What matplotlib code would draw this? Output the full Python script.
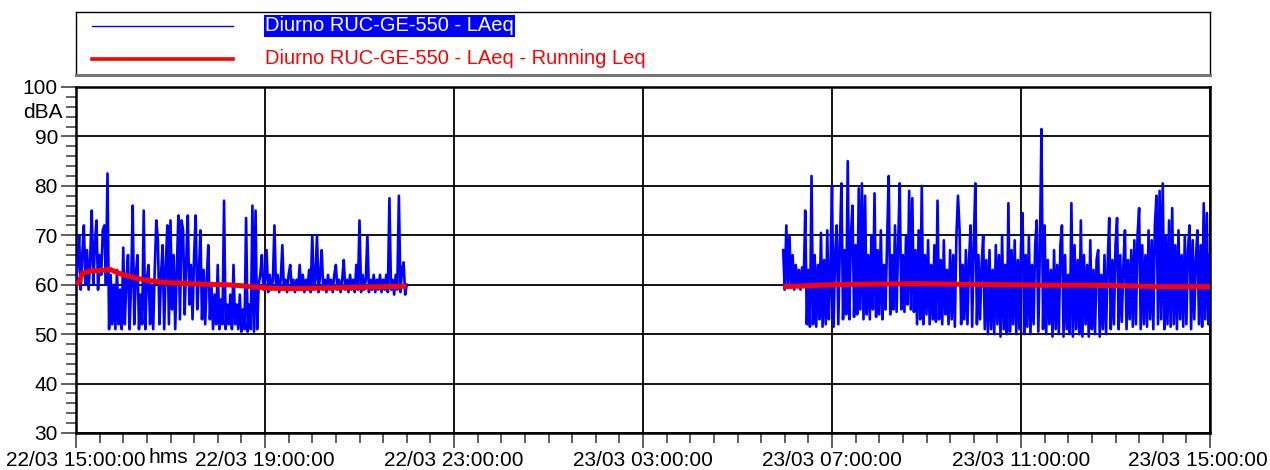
import matplotlib

matplotlib.use("Agg")
import matplotlib.pyplot as plt
import matplotlib.transforms as mtransforms
import numpy as np

# LAeq record, one value every STEP minutes; time is minutes after 22/03 15:00
STEP = 2
SEG1_START = 0      # 22/03 15:00
SEG2_START = 898    # 23/03 05:58

laeq_1 = [
    60, 64, 70, 59, 66, 72, 60, 67, 59, 65,
    75, 60, 68, 73, 59, 66, 62, 71, 72, 60,
    82.5, 51, 62, 52, 60, 51, 63, 52, 59, 51,
    67.5, 52, 61, 66, 51, 60, 76, 52, 62, 66,
    51, 58, 52, 75, 51, 61, 64, 52, 60, 51,
    63, 73, 69, 52, 62, 68, 51, 64, 72, 52,
    73, 55, 66, 51, 63, 74, 53, 73, 71, 54,
    65, 74, 56, 64, 53, 66, 74, 55, 62, 71,
    53, 63, 52, 61, 68, 53, 60, 51, 58, 52,
    64, 51, 57, 52, 77, 51, 56, 52, 58, 51,
    64, 52, 56, 51, 58, 50.5, 55, 51, 73.5, 50.5,
    56, 51, 76, 50.5, 75, 51, 60, 62, 66, 59,
    61, 67, 58.5, 62, 59, 61, 72, 59, 62, 58.5,
    61, 68, 59, 61, 58.5, 62, 64, 59, 61, 58.5,
    61, 59, 64, 59, 62, 58.5, 61, 59, 63, 58.5,
    70, 59, 61, 70, 58.5, 62, 67, 59, 61, 58.5,
    62, 59, 61, 58.5, 62, 64, 59, 61, 58.5, 61,
    65, 59, 61, 58.5, 62, 59, 61, 58.5, 64, 59,
    73, 58.5, 62, 59, 61, 70, 58.5, 61, 59, 62,
    58.5, 61, 59, 62, 58.5, 61, 59, 62, 58.5, 77.5,
    59, 61, 58, 62, 59, 78, 58.5, 63, 64.5, 58,
    60,
]

laeq_2 = [
    67, 59, 72, 60, 70, 59.5, 66, 59, 64, 59.5,
    63, 59, 63.5, 59.5, 75, 52, 63, 51.5, 82, 52,
    66, 51.5, 64, 53, 70.5, 51.5, 65, 52, 71, 53,
    63, 80, 51.5, 66, 72, 52, 68, 80.5, 53, 67,
    54, 85, 53, 70, 76, 53.5, 68, 54, 79.5, 55,
    80.5, 53, 78, 54, 66, 53, 70, 55, 78.5, 53.5,
    67, 54, 71, 53, 64, 55, 69, 82, 54, 66,
    55, 72, 54.5, 68, 80.5, 55, 66, 54.5, 70, 56,
    79, 55, 77.5, 54.5, 67, 52, 71, 53, 80, 52,
    66, 54, 69, 52, 64, 53, 68, 52.5, 77, 53,
    65, 52, 69, 54, 63, 52, 67, 53, 66, 51.5,
    70, 78, 71, 52, 64, 53, 67, 52, 65, 72,
    51.5, 68, 80.5, 52, 66, 53, 64, 70, 51, 65,
    50, 67, 51, 63, 50, 68, 52, 66, 49.5, 70,
    51, 64, 50, 76.5, 50.5, 67, 52, 69, 50, 65,
    51, 68, 74.5, 50, 66, 51.5, 70, 50, 64, 52,
    68, 73, 50.5, 67, 91.5, 51, 72, 50, 65, 52,
    63, 49.5, 67, 51, 64, 50, 68, 72, 49.5, 66,
    51, 62, 50, 76.5, 49.5, 68, 51, 65, 50, 73,
    49.5, 66, 52, 64, 49.5, 69, 51, 63, 50, 65,
    67, 49.5, 62, 51, 66, 50, 64, 73.5, 51, 65,
    52, 68, 73.5, 51, 66, 52.5, 64, 71, 51, 65,
    53, 67, 51.5, 69, 52, 70, 75.5, 51, 68, 52,
    66, 51.5, 71, 53, 69, 51, 72, 78, 52, 79,
    53, 80.5, 51, 70, 52, 73, 51.5, 75.5, 52, 68,
    51, 71, 53, 66, 51.5, 70, 52, 67, 72, 51,
    69, 53, 65, 71, 52, 68, 51.5, 76.5, 53, 74.5,
    52, 66,
]

# running Leq (minutes after 22/03 15:00, dBA)
run_t_1 = [0, 4, 8, 14, 20, 40, 42, 50, 60, 75, 90, 110, 130, 160, 190,
           210, 230, 250, 270, 300, 330, 360, 390, 420]
run_1 = [60, 60.5, 62.3, 62.6, 62.8, 63, 63.2, 62.6, 62, 61.4, 60.9, 60.5,
         60.3, 60.1, 60.0, 59.8, 59.5, 59.3, 59.2, 59.3, 59.4, 59.5, 59.6, 59.7]
run_t_2 = [898, 930, 960, 1000, 1060, 1120, 1180, 1230, 1280, 1330, 1380, 1440]
run_2 = [59.6, 59.8, 60.0, 60.1, 60.2, 60.1, 60.0, 59.9, 59.9, 59.8, 59.6, 59.6]

x_ticks = [0, 240, 480, 720, 960, 1200, 1440]
x_labels = ["22/03 15:00:00", "22/03 19:00:00", "22/03 23:00:00",
            "23/03 03:00:00", "23/03 07:00:00", "23/03 11:00:00",
            "23/03 15:00:00"]
y_ticks = [30, 40, 50, 60, 70, 80, 90, 100]

label_1 = "Diurno RUC-GE-550 - LAeq"
label_2 = "Diurno RUC-GE-550 - LAeq - Running Leq"

BLUE, RED = "#0000ff", "#ff0000"
FS = 15

plt.rcParams["font.family"] = ["Liberation Sans", "DejaVu Sans"]

fig = plt.figure(figsize=(12.7, 4.7), dpi=100)
ax = fig.add_axes([76 / 1270, 37 / 470, 1134 / 1270, 346 / 470])

t1 = SEG1_START + STEP * np.arange(len(laeq_1))
t2 = SEG2_START + STEP * np.arange(len(laeq_2))
ax.plot(t1, laeq_1, color=BLUE, lw=1.9, zorder=3)
ax.plot(t2, laeq_2, color=BLUE, lw=1.9, zorder=3)
ax.plot(run_t_1, run_1, color=RED, lw=3.6, zorder=4, solid_capstyle="butt")
ax.plot(run_t_2, run_2, color=RED, lw=3.6, zorder=4, solid_capstyle="butt")

ax.set_xlim(0, 1440)
ax.set_ylim(30, 100)
ax.set_xticks(x_ticks)
ax.set_xticklabels(x_labels, fontsize=FS)
ax.set_xticks(np.arange(0, 1441, 30), minor=True)
ax.set_yticks(y_ticks)
ax.set_yticklabels([str(v) for v in y_ticks], fontsize=FS)
ax.set_yticks(np.arange(30, 101, 2), minor=True)
ax.tick_params(axis="both", which="major", length=11, width=1.2, color="#444444", pad=2)
ax.tick_params(axis="both", which="minor", length=7, width=1.2, color="#444444")
ax.grid(True, which="major", color="black", lw=1.3)
ax.set_axisbelow(True)
for s in ax.spines.values():
    s.set_linewidth(1.8)

# last date label is pushed left so it stays inside the picture
last = ax.get_xticklabels()[-1]
last.set_ha("right")
last.set_transform(last.get_transform()
                   + mtransforms.ScaledTranslation(58 / 100, 0, fig.dpi_scale_trans))

ax.text(-0.012, 0.925, "dBA", transform=ax.transAxes, ha="right", va="center", fontsize=FS)
ax.text(92 / 1134, -0.043, "hms", transform=ax.transAxes, ha="center", va="top", fontsize=FS)

# legend box above the plot
lg = fig.add_axes([76 / 1270, 395 / 470, 1134 / 1270, 63 / 470])
lg.set_xlim(0, 1134)
lg.set_ylim(63, 0)
lg.set_xticks([])
lg.set_yticks([])
for s in lg.spines.values():
    s.set_linewidth(1.0)
lg.spines["bottom"].set_color("#777777")
lg.spines["bottom"].set_linewidth(2.2)
lg.plot([16, 157], [14, 14], color=BLUE, lw=1.0)
lg.plot([16, 157], [47, 47], color=RED, lw=2.6)
lg.text(189, 14, label_1, color="white", fontsize=14.5, va="center", ha="left",
        bbox=dict(facecolor=BLUE, edgecolor="none", pad=1.0))
lg.text(189, 46, label_2, color=RED, fontsize=14.5, va="center", ha="left")

fig.savefig("out.png", dpi=100)
